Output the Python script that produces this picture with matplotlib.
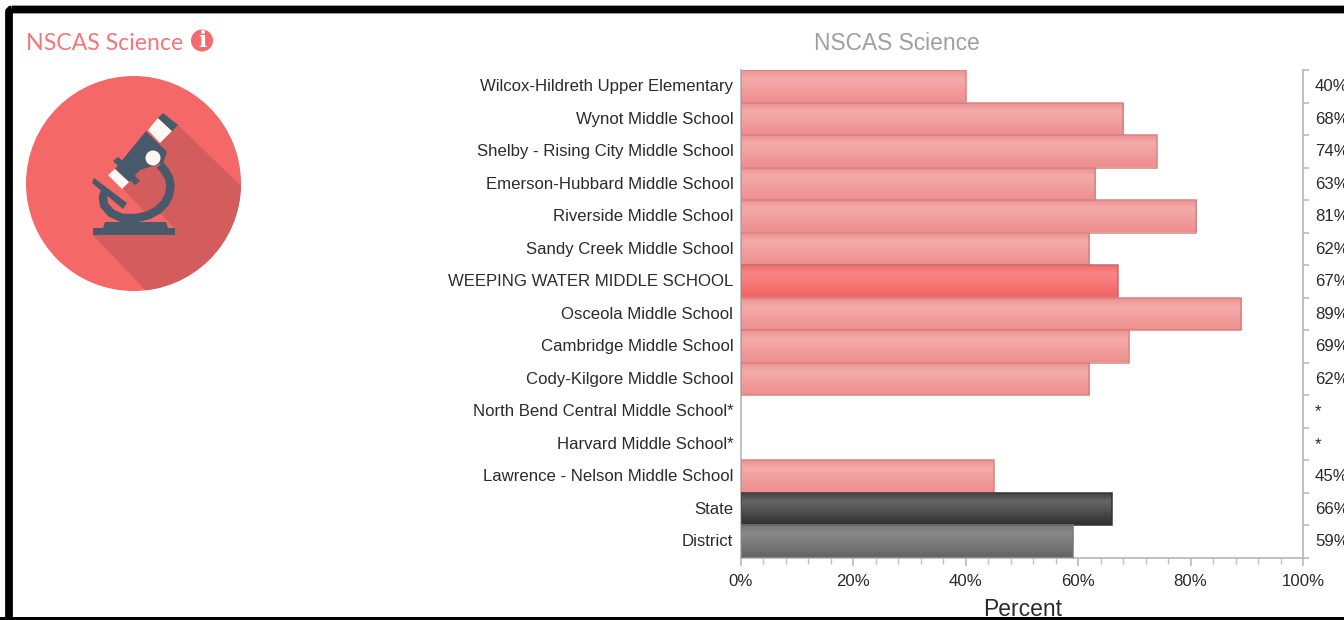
import numpy as np
import matplotlib
matplotlib.use("Agg")
import matplotlib.pyplot as plt
from matplotlib.colors import LinearSegmentedColormap
from matplotlib.patches import Circle, Polygon, Rectangle, FancyBboxPatch
from matplotlib.ticker import MultipleLocator, FuncFormatter, FixedLocator
from matplotlib.transforms import ScaledTranslation

schools = ["Wilcox-Hildreth Upper Elementary", "Wynot Middle School", "Shelby - Rising City Middle School",
           "Emerson-Hubbard Middle School", "Riverside Middle School", "Sandy Creek Middle School",
           "WEEPING WATER MIDDLE SCHOOL", "Osceola Middle School", "Cambridge Middle School",
           "Cody-Kilgore Middle School", "North Bend Central Middle School*", "Harvard Middle School*",
           "Lawrence - Nelson Middle School", "State", "District"]
percent = [40, 68, 74, 63, 81, 62, 67, 89, 69, 62, None, None, 45, 66, 59]
bar_kind = ["peer"] * 6 + ["self"] + ["peer"] * 6 + ["state", "district"]
x_ticks = [0, 20, 40, 60, 80, 100]

gradients = {
    "peer": (["#ec8f8f", "#f4abab", "#ee8e8e"], "#d98383"),
    "self": (["#f06a6a", "#f98585", "#f26464"], "#c96a6a"),
    "state": (["#404040", "#666666", "#2f2f2f"], "#333333"),
    "district": (["#727272", "#8a8a8a", "#646464"], "#777777"),
}

W, H = 1344, 620
plt.rcParams["font.family"] = ["Liberation Sans", "DejaVu Sans"]
fig = plt.figure(figsize=(W / 100, H / 100), dpi=100, facecolor="white")

L, R, T, B = 741, 1303, 70, 557.5
ax = fig.add_axes([L / W, 1 - B / H, (R - L) / W, (B - T) / H])
ax.set_facecolor("none")

for i, (v, kind) in enumerate(zip(percent, bar_kind)):
    if v is None:
        continue
    cols, edge = gradients[kind]
    cmap = LinearSegmentedColormap.from_list(kind, [(0, cols[0]), (0.28, cols[1]), (1, cols[2])])
    bar = ax.barh(i, v, height=1.0, facecolor="none", edgecolor=edge, linewidth=1.1, zorder=3)[0]
    im = ax.imshow(np.linspace(0, 1, 64).reshape(-1, 1), cmap=cmap, aspect="auto",
                   extent=(0, v, i + 0.5, i - 0.5), zorder=2)
    im.set_clip_path(bar)
ax.set_xlim(0, 100)
ax.set_ylim(len(schools) - 0.5, -0.5)

ax.spines["top"].set_visible(False)
for s in ("left", "right", "bottom"):
    ax.spines[s].set_color("#b5b5b5")
    ax.spines[s].set_linewidth(1.2)

ax.set_yticks(range(len(schools)))
ax.set_yticklabels(schools, fontsize=12.1, color="#2b2b2b")
ax.tick_params(axis="y", length=0, pad=5.5)
ax.xaxis.set_major_locator(FixedLocator(x_ticks))
ax.xaxis.set_major_formatter(FuncFormatter(lambda v, _: f"{v:.0f}%"))
ax.xaxis.set_minor_locator(MultipleLocator(4))
ax.tick_params(axis="x", which="major", length=6, width=1.1, color="#b5b5b5", labelsize=12.1,
               labelcolor="#2b2b2b", pad=6)
ax.tick_params(axis="x", which="minor", length=4, width=1.0, color="#c0c0c0")
ax.set_xlabel("Percent", fontsize=16.5, color="#2b2b2b")
ax.xaxis.set_label_coords((1023 - L) / (R - L), -(609 - B) / (B - T), transform=ax.transAxes)
ax.xaxis.label.set_va("center")

rx = ax.twinx()
rx.set_ylim(ax.get_ylim())
rx.set_facecolor("none")
for s in rx.spines.values():
    s.set_visible(False)
rx.set_yticks(np.arange(-0.5, len(schools)))
rx.set_yticklabels([])
rx.set_yticks(range(len(schools)), minor=True)
rx.set_yticklabels([f"{v}%" if v is not None else "*" for v in percent], minor=True,
                   fontsize=12.1, color="#2b2b2b")
rx.tick_params(axis="y", which="major", length=4, width=1.1, color="#b5b5b5", right=True)
rx.tick_params(axis="y", which="minor", length=0, pad=8.5)

up = ScaledTranslation(0, 1 / 100, fig.dpi_scale_trans)
for lab in list(ax.get_yticklabels()) + list(rx.get_yticklabels(minor=True)):
    lab.set_transform(lab.get_transform() + up)

ov = fig.add_axes([0, 0, 1, 1], zorder=10)
ov.set_xlim(0, W)
ov.set_ylim(H, 0)
ov.axis("off")
ov.patch.set_visible(False)

ov.text(896.5, 43, "NSCAS Science", ha="center", va="center", fontsize=16.4, color="#a0a0a0")
ov.text(26, 43, "NSCAS Science", ha="left", va="center", fontsize=16.7, color="#f4777a",
        family=["Lato", "DejaVu Sans"])
ov.add_patch(Circle((202, 40.5), 11, color="#f16a6d", lw=0))
ov.text(202, 41, "i", ha="center", va="center", fontsize=15.5, color="white", fontweight="bold",
        family=["DejaVu Serif"])

# Icon
RED, SHADOW, SLATE, CREAM = "#f46868", "#d35d5d", "#47596a", "#fdfaf3"
disc = Circle((133.5, 183.5), 107.5, color=RED, lw=0)
ov.add_patch(disc)
sh = Polygon([(178, 125), (245, 190), (245, 300), (150, 295), (93, 235), (174, 228), (160, 213),
              (147, 214), (122, 188), (150, 150)], closed=True, color=SHADOW, lw=0)
ov.add_patch(sh)
sh.set_clip_path(disc)

# curved arm of the microscope
arm_x = [160, 165, 169, 170.5, 169, 165, 158, 149, 137, 122, 111, 104, 103, 105]
arm_y = [165, 171, 178, 186, 195, 203, 210, 215, 218, 218, 213, 205, 197, 191]
ov.plot(arm_x, arm_y, color=SLATE, lw=6.1, solid_capstyle="butt", solid_joinstyle="round")

ov.add_patch(Polygon([(105, 222), (166, 222), (168, 228), (103, 228)], color=SLATE, lw=0))
ov.add_patch(Polygon([(93, 228), (174.5, 228), (174.5, 235), (93, 235)], color=SLATE, lw=0))
ov.add_patch(Polygon([(94, 178), (127, 203), (123, 209), (92, 183)], color=SLATE, lw=0))
ov.add_patch(Polygon([(146, 131), (167, 152), (163, 163), (140, 170), (129, 182), (115, 169)],
                     color=SLATE, lw=0))
ov.add_patch(Polygon([(113, 161), (118, 157), (124, 162), (119, 167)], color=SLATE, lw=0))
ov.add_patch(Polygon([(134, 175), (140, 181), (135, 185), (129, 179)], color=SLATE, lw=0))
ov.add_patch(Polygon([(158, 118), (172, 131), (160, 143), (148, 130)], color=CREAM, lw=0))
ov.add_patch(Polygon([(163, 113), (178, 125), (172, 131), (158, 118)], color=SLATE, lw=0))
ov.add_patch(Polygon([(115, 169), (129, 182), (122, 189), (108, 175)], color=CREAM, lw=0))
ov.add_patch(Circle((153, 158), 7.5, color=CREAM, lw=0))

# Screenshot frame
ov.add_patch(FancyBboxPatch((9, 9.5), W + 40, 640, boxstyle="round,pad=0,rounding_size=3",
                            facecolor="none", edgecolor="black", linewidth=5.6, zorder=20))
ov.add_patch(Rectangle((0, 617), W, 3, color="black", lw=0, zorder=20))

fig.savefig("out.png", dpi=100)
